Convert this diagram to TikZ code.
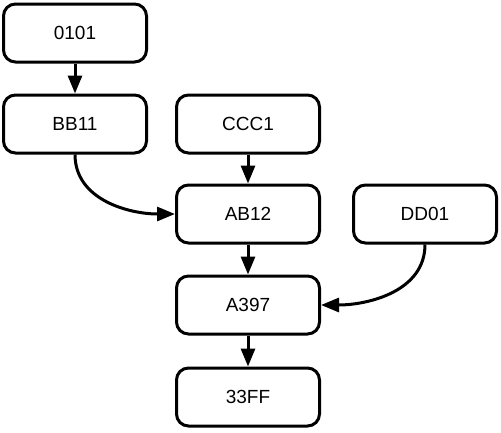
\documentclass[tikz,border=0pt]{standalone}
\usepackage{fontspec}
\setmainfont{Liberation Sans}
\usetikzlibrary{arrows.meta}
\begin{document}
\begin{tikzpicture}[x=1pt,y=-1pt,
  box/.style={draw=black,line width=3pt,rounded corners=12pt,minimum width=143pt,minimum height=58pt,inner sep=0pt,font=\fontsize{19}{21}\selectfont},
  conn/.style={line width=3pt,-{Triangle[length=18pt,width=14pt]}}]
\useasboundingbox (0,0) rectangle (501,432);
\node[box] (n0101) at (75,33) {0101};
\node[box] (bb11) at (75,124) {BB11};
\node[box] (ccc1) at (248,124) {CCC1};
\node[box] (ab12) at (248,214) {AB12};
\node[box] (dd01) at (425,214) {DD01};
\node[box] (a397) at (248,305) {A397};
\node[box] (ff33) at (248,397) {33FF};
\draw[conn] (n0101) -- (bb11);
\draw[conn] (ccc1) -- (ab12);
\draw[conn] (ab12) -- (a397);
\draw[conn] (a397) -- (ff33);
\draw[conn] (bb11.south) to[out=-90,in=180] (ab12.west);
\draw[conn] (dd01.south) to[out=-90,in=0] (a397.east);
\end{tikzpicture}
\end{document}
